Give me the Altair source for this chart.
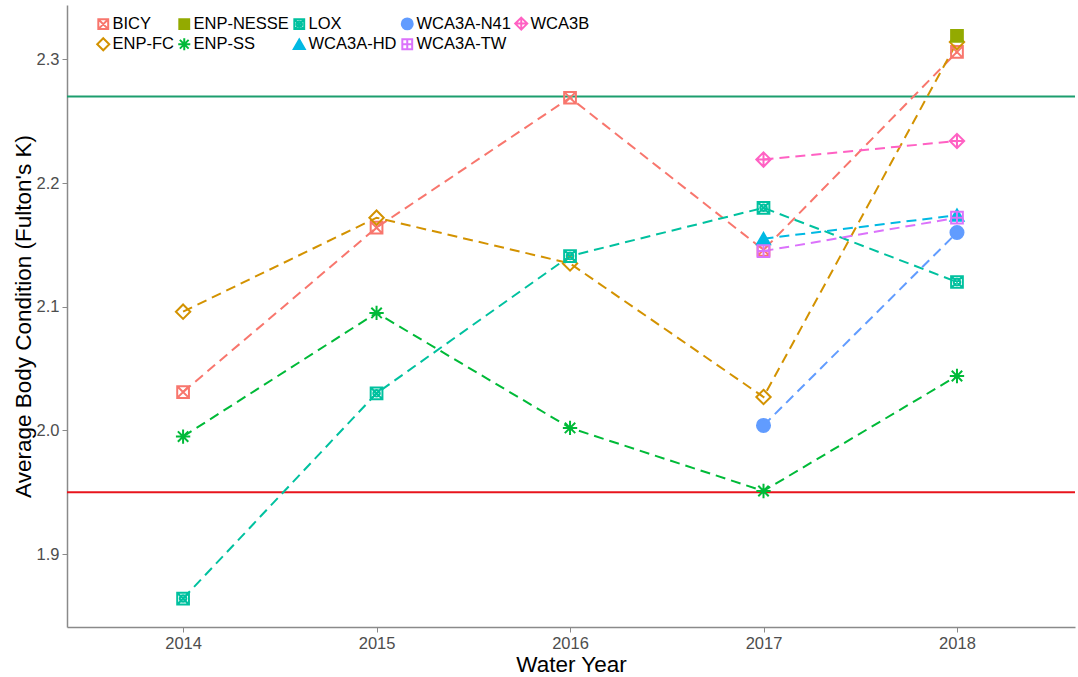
import altair as alt
import pandas as pd

# Average body condition per site and water year
years = [2014, 2015, 2016, 2017, 2018]

bicy = [2.031, 2.164, 2.269, 2.146, 2.306]
enp_fc = [2.096, 2.172, 2.135, 2.027, 2.314]
enp_nesse = [None, None, None, None, 2.319]
enp_ss = [1.995, 2.095, 2.002, 1.951, 2.044]
lox = [1.864, 2.030, 2.141, 2.180, 2.120]
wca3a_hd = [None, None, None, 2.155, 2.174]
wca3a_n41 = [None, None, None, 2.004, 2.160]
wca3a_tw = [None, None, None, 2.145, 2.172]
wca3b = [None, None, None, 2.219, 2.234]

upper_ref = 2.27
lower_ref = 1.95

series = {
    "BICY": bicy,
    "ENP-FC": enp_fc,
    "ENP-NESSE": enp_nesse,
    "ENP-SS": enp_ss,
    "LOX": lox,
    "WCA3A-HD": wca3a_hd,
    "WCA3A-N41": wca3a_n41,
    "WCA3A-TW": wca3a_tw,
    "WCA3B": wca3b,
}
sites = list(series)

colors = {
    "BICY": "#F8766D", "ENP-FC": "#D39200", "ENP-NESSE": "#93AA00",
    "ENP-SS": "#00BA38", "LOX": "#00C19F", "WCA3A-HD": "#00B9E3",
    "WCA3A-N41": "#619CFF", "WCA3A-TW": "#DB72FB", "WCA3B": "#FF61C3",
}

rows = []
for site, vals in series.items():
    for yr, v in zip(years, vals):
        if v is not None:
            rows.append({"site": site, "year": yr, "k": v, "col": colors[site]})
df = pd.DataFrame(rows)

sq = "M-0.9,-0.9H0.9V0.9H-0.9Z"
shapes = {
    "BICY": sq + "M-0.9,-0.9L0.9,0.9M-0.9,0.9L0.9,-0.9",
    "ENP-FC": "M0,-1.1L1.1,0L0,1.1L-1.1,0Z",
    "ENP-NESSE": sq,
    "ENP-SS": "M0,-1.1V1.1M-1.1,0H1.1M-0.8,-0.8L0.8,0.8M-0.8,0.8L0.8,-0.8",
    "LOX": sq + "M-0.9,-0.9L0.9,0.9M-0.9,0.9L0.9,-0.9"
           "M0.5,0A0.5,0.5 0 1,1 -0.5,0A0.5,0.5 0 1,1 0.5,0",
    "WCA3A-HD": "triangle-up",
    "WCA3A-N41": "circle",
    "WCA3A-TW": sq + "M0,-0.9V0.9M-0.9,0H0.9",
    "WCA3B": "M0,-1.1L1.1,0L0,1.1L-1.1,0ZM0,-1.1V1.1M-1.1,0H1.1",
}
filled_sites = {"ENP-NESSE", "WCA3A-HD", "WCA3A-N41"}

color_range = [colors[s] for s in sites]
shape_range = [shapes[s] for s in sites]
fill_range = [colors[s] if s in filled_sites else "transparent" for s in sites]

x_scale = alt.Scale(domain=[2013.4, 2018.61], nice=False, zero=False)
y_scale = alt.Scale(domain=[1.841, 2.344], nice=False, zero=False)

x_enc = alt.X("year:Q", scale=x_scale, title="Water Year",
              axis=alt.Axis(values=years, format="d"))
y_enc = alt.Y("k:Q", scale=y_scale, title="Average Body Condition (Fulton's K)",
              axis=alt.Axis(values=[1.9, 2.0, 2.1, 2.2, 2.3], format=".1f"))

legend = alt.Legend(
    title=None, orient="none", legendX=28, legendY=10, columns=5,
    labelFontSize=16.5, labelColor="#000000", labelFont="Liberation Sans",
    symbolSize=120, symbolStrokeWidth=2, columnPadding=0, rowPadding=0,
    labelOffset=1, labelLimit=200,
)

lines = alt.Chart(df).mark_line(strokeDash=[10, 6], strokeWidth=2).encode(
    x=x_enc, y=y_enc,
    stroke=alt.Stroke("col:N", scale=None),
    detail="site:N",
)

points = alt.Chart(df).mark_point(strokeWidth=2, size=170, opacity=1).encode(
    x=x_enc, y=y_enc,
    stroke=alt.Stroke("site:N", scale=alt.Scale(domain=sites, range=color_range),
                      legend=legend),
    fill=alt.Fill("site:N", scale=alt.Scale(domain=sites, range=fill_range),
                  legend=legend),
    shape=alt.Shape("site:N", scale=alt.Scale(domain=sites, range=shape_range),
                    legend=legend),
)

ref_df = pd.DataFrame({"k": [upper_ref, lower_ref], "col": ["#1C9E6E", "#E8141C"]})
refs = alt.Chart(ref_df).mark_rule(strokeWidth=2).encode(
    y=alt.Y("k:Q", scale=y_scale),
    color=alt.Color("col:N", scale=None),
)

chart = alt.layer(refs, lines, points).properties(
    width=1008, height=622,
    autosize=alt.AutoSizeParams(type="none"),
    padding={"left": 67, "top": 5, "right": 3, "bottom": 50},
    background="white",
).configure_view(stroke=None).configure_axis(
    grid=False, domainColor="#8a8a8a", domainWidth=1.5, tickColor="#8a8a8a",
    tickSize=5, labelColor="#4D4D4D", labelFontSize=16.5, labelFont="Liberation Sans",
    titleColor="#000000", titleFontSize=22.5, titleFont="Liberation Sans",
    titleFontWeight="normal", labelPadding=3,
).configure_axisY(titlePadding=1).configure_axisX(titlePadding=2)

chart.save("out.html", embed_options={"renderer": "svg", "actions": False})
